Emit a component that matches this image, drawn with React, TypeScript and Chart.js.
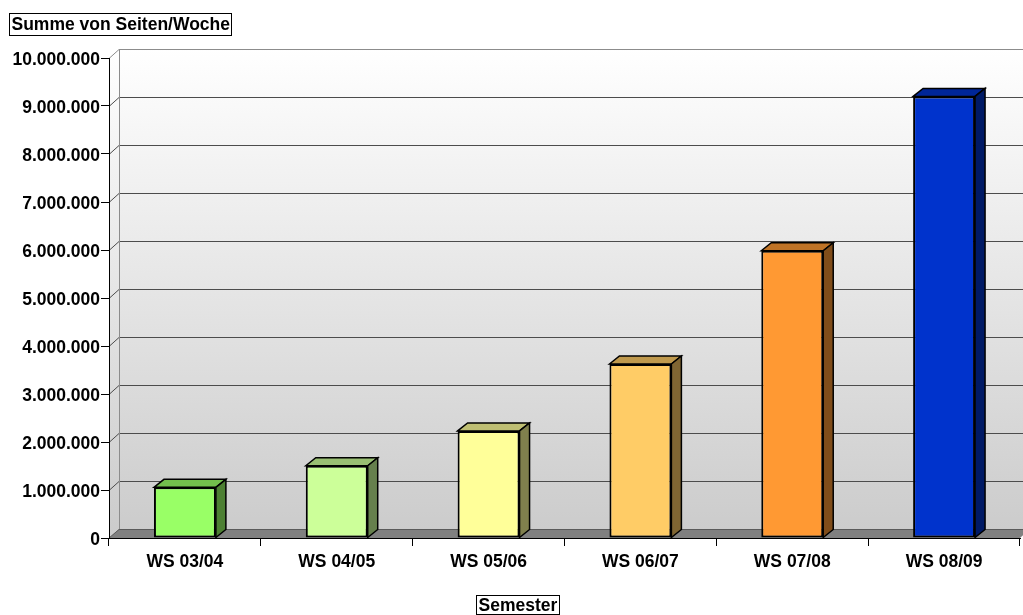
import { useEffect, useRef } from 'react';
import { Chart, registerables } from 'chart.js';

Chart.register(...registerables);

// Weekly page totals per winter semester
const semesters = ['WS 03/04', 'WS 04/05', 'WS 05/06', 'WS 06/07', 'WS 07/08', 'WS 08/09'];
const seitenProWoche = [1055000, 1505000, 2230000, 3625000, 5985000, 9200000];
const barColors = ['#99ff66', '#ccff99', '#ffff99', '#ffcc66', '#ff9933', '#0033cc'];

const yMin = 0;
const yMax = 10000000;
const yStep = 1000000;

const yTitle = 'Summe von Seiten/Woche';
const xTitle = 'Semester';

const FONT = '"Liberation Sans", Arial, Helvetica, sans-serif';
const FONT_SIZE = 17.5;

// depth of the pseudo-3D wall and bars
const DEPTH_X = 10;
const WALL_DY = -9;
const BAR_DY = -8;

function shade(hex: string, f: number): string {
  const n = parseInt(hex.slice(1), 16);
  const r = Math.round(((n >> 16) & 255) * f);
  const g = Math.round(((n >> 8) & 255) * f);
  const b = Math.round((n & 255) * f);
  return `rgb(${r},${g},${b})`;
}

function formatDe(v: number): string {
  return Math.round(v)
    .toString()
    .replace(/\B(?=(\d{3})+(?!\d))/g, '.');
}

const wallPlugin = {
  id: 'wall3d',
  beforeDraw(chart: any) {
    const { ctx, chartArea, scales } = chart;
    const { left, right, top, bottom } = chartArea;
    const W = chart.width;
    const y = scales.y;
    ctx.save();

    // back wall + left side wall
    const grad = ctx.createLinearGradient(0, top + WALL_DY, 0, bottom);
    grad.addColorStop(0, '#ffffff');
    grad.addColorStop(1, '#cbcbcb');
    ctx.fillStyle = grad;
    ctx.beginPath();
    ctx.moveTo(left, top);
    ctx.lineTo(left + DEPTH_X, top + WALL_DY);
    ctx.lineTo(W, top + WALL_DY);
    ctx.lineTo(W, bottom + WALL_DY);
    ctx.lineTo(left + DEPTH_X, bottom + WALL_DY);
    ctx.lineTo(left, bottom);
    ctx.closePath();
    ctx.fill();

    // floor
    ctx.fillStyle = '#808080';
    ctx.beginPath();
    ctx.moveTo(left, bottom);
    ctx.lineTo(left + DEPTH_X, bottom + WALL_DY);
    ctx.lineTo(right + DEPTH_X, bottom + WALL_DY);
    ctx.lineTo(right, bottom);
    ctx.closePath();
    ctx.fill();

    // gridlines on side and back wall
    ctx.lineWidth = 1;
    for (const t of y.ticks) {
      if (t.value === yMin) continue;
      const py = Math.round(y.getPixelForValue(t.value)) + 0.5;
      ctx.strokeStyle = t.value === yMax ? '#8c8c8c' : '#4c4c4c';
      ctx.beginPath();
      ctx.moveTo(left, py);
      ctx.lineTo(left + DEPTH_X, py + WALL_DY);
      ctx.lineTo(W, py + WALL_DY);
      ctx.stroke();
    }

    // back-left corner edge
    ctx.strokeStyle = '#8c8c8c';
    ctx.beginPath();
    ctx.moveTo(left + DEPTH_X + 0.5, top + WALL_DY);
    ctx.lineTo(left + DEPTH_X + 0.5, bottom + WALL_DY);
    ctx.stroke();

    // floor edges
    ctx.strokeStyle = '#5a5a5a';
    ctx.beginPath();
    ctx.moveTo(left, bottom);
    ctx.lineTo(left + DEPTH_X, bottom + WALL_DY + 0.5);
    ctx.lineTo(W, bottom + WALL_DY + 0.5);
    ctx.stroke();

    ctx.restore();
  },
};

const barDepthPlugin = {
  id: 'barDepth',
  afterDatasetsDraw(chart: any) {
    const { ctx } = chart;
    const meta = chart.getDatasetMeta(0);
    ctx.save();
    ctx.lineWidth = 1.5;
    ctx.strokeStyle = '#000000';
    ctx.lineJoin = 'miter';
    meta.data.forEach((bar: any, i: number) => {
      const { x, y, base, width } = bar.getProps(['x', 'y', 'base', 'width'], true);
      const l = x - width / 2;
      const r = x + width / 2;
      const c = barColors[i];

      // top face
      ctx.fillStyle = shade(c, 0.75);
      ctx.beginPath();
      ctx.moveTo(l, y);
      ctx.lineTo(l + DEPTH_X, y + BAR_DY);
      ctx.lineTo(r + DEPTH_X, y + BAR_DY);
      ctx.lineTo(r, y);
      ctx.closePath();
      ctx.fill();
      ctx.stroke();

      // side face
      ctx.fillStyle = shade(c, 0.5);
      ctx.beginPath();
      ctx.moveTo(r, y);
      ctx.lineTo(r + DEPTH_X, y + BAR_DY);
      ctx.lineTo(r + DEPTH_X, base + BAR_DY);
      ctx.lineTo(r, base);
      ctx.closePath();
      ctx.fill();
      ctx.stroke();
    });
    ctx.restore();
  },
};

function boxedText(ctx: CanvasRenderingContext2D, text: string, cx: number | null, left: number | null, top: number, height: number) {
  ctx.save();
  ctx.font = `bold ${FONT_SIZE}px ${FONT}`;
  const tw = ctx.measureText(text).width;
  const w = Math.round(tw + 5);
  const bx = left !== null ? left : Math.round((cx as number) - w / 2);
  ctx.fillStyle = '#ffffff';
  ctx.fillRect(bx, top, w, height);
  ctx.strokeStyle = '#000000';
  ctx.lineWidth = 1;
  ctx.strokeRect(bx + 0.5, top + 0.5, w - 1, height - 1);
  ctx.fillStyle = '#000000';
  ctx.textAlign = 'left';
  ctx.textBaseline = 'middle';
  ctx.fillText(text, bx + 2.5, top + height / 2 + 1);
  ctx.restore();
}

const titlesPlugin = {
  id: 'boxedTitles',
  afterDraw(chart: any) {
    const { ctx } = chart;
    boxedText(ctx, yTitle, null, 9, 13, 23);
    boxedText(ctx, xTitle, 518, null, 595, 20);
  },
};

export default function App() {
  const canvasRef = useRef<HTMLCanvasElement | null>(null);

  useEffect(() => {
    const canvas = canvasRef.current;
    if (!canvas) return;
    const tickFont = { family: FONT, size: FONT_SIZE, weight: 'bold' as const };
    const chart = new Chart(canvas, {
      type: 'bar',
      data: {
        labels: semesters,
        datasets: [
          {
            data: seitenProWoche,
            backgroundColor: barColors,
            borderColor: '#000000',
            borderWidth: 2,
            borderSkipped: false,
            categoryPercentage: 1,
            barPercentage: 0.408,
          },
        ],
      },
      options: {
        responsive: false,
        animation: false,
        devicePixelRatio: 1,
        layout: { padding: { top: 58, right: 3, left: 0, bottom: 0 } },
        plugins: {
          legend: { display: false },
          tooltip: { enabled: false },
          title: { display: false },
        },
        scales: {
          x: {
            type: 'category',
            offset: true,
            grid: {
              offset: true,
              drawOnChartArea: false,
              drawTicks: true,
              tickLength: 8,
              color: '#000000',
              lineWidth: 1,
            },
            border: { display: true, color: '#000000', width: 1 },
            ticks: {
              color: '#000000',
              font: tickFont,
              padding: 6,
              autoSkip: false,
              maxRotation: 0,
              minRotation: 0,
            },
            afterFit: (s: any) => {
              s.height = 77;
            },
          },
          y: {
            min: yMin,
            max: yMax,
            grid: {
              drawOnChartArea: false,
              drawTicks: true,
              tickLength: 8,
              color: '#000000',
            },
            border: { display: true, color: '#000000', width: 1 },
            ticks: {
              stepSize: yStep,
              color: '#000000',
              font: tickFont,
              padding: 1,
              labelOffset: 2,
              callback: (v: any) => formatDe(Number(v)),
            },
            afterFit: (s: any) => {
              s.width = 109;
            },
          },
        },
      },
      plugins: [wallPlugin, barDepthPlugin, titlesPlugin],
    });
    return () => chart.destroy();
  }, []);

  return (
    <div style={{ position: 'absolute', left: 0, top: 0, width: 1023, height: 615, background: '#ffffff' }}>
      <canvas ref={canvasRef} width={1023} height={615} style={{ display: 'block' }} />
    </div>
  );
}
